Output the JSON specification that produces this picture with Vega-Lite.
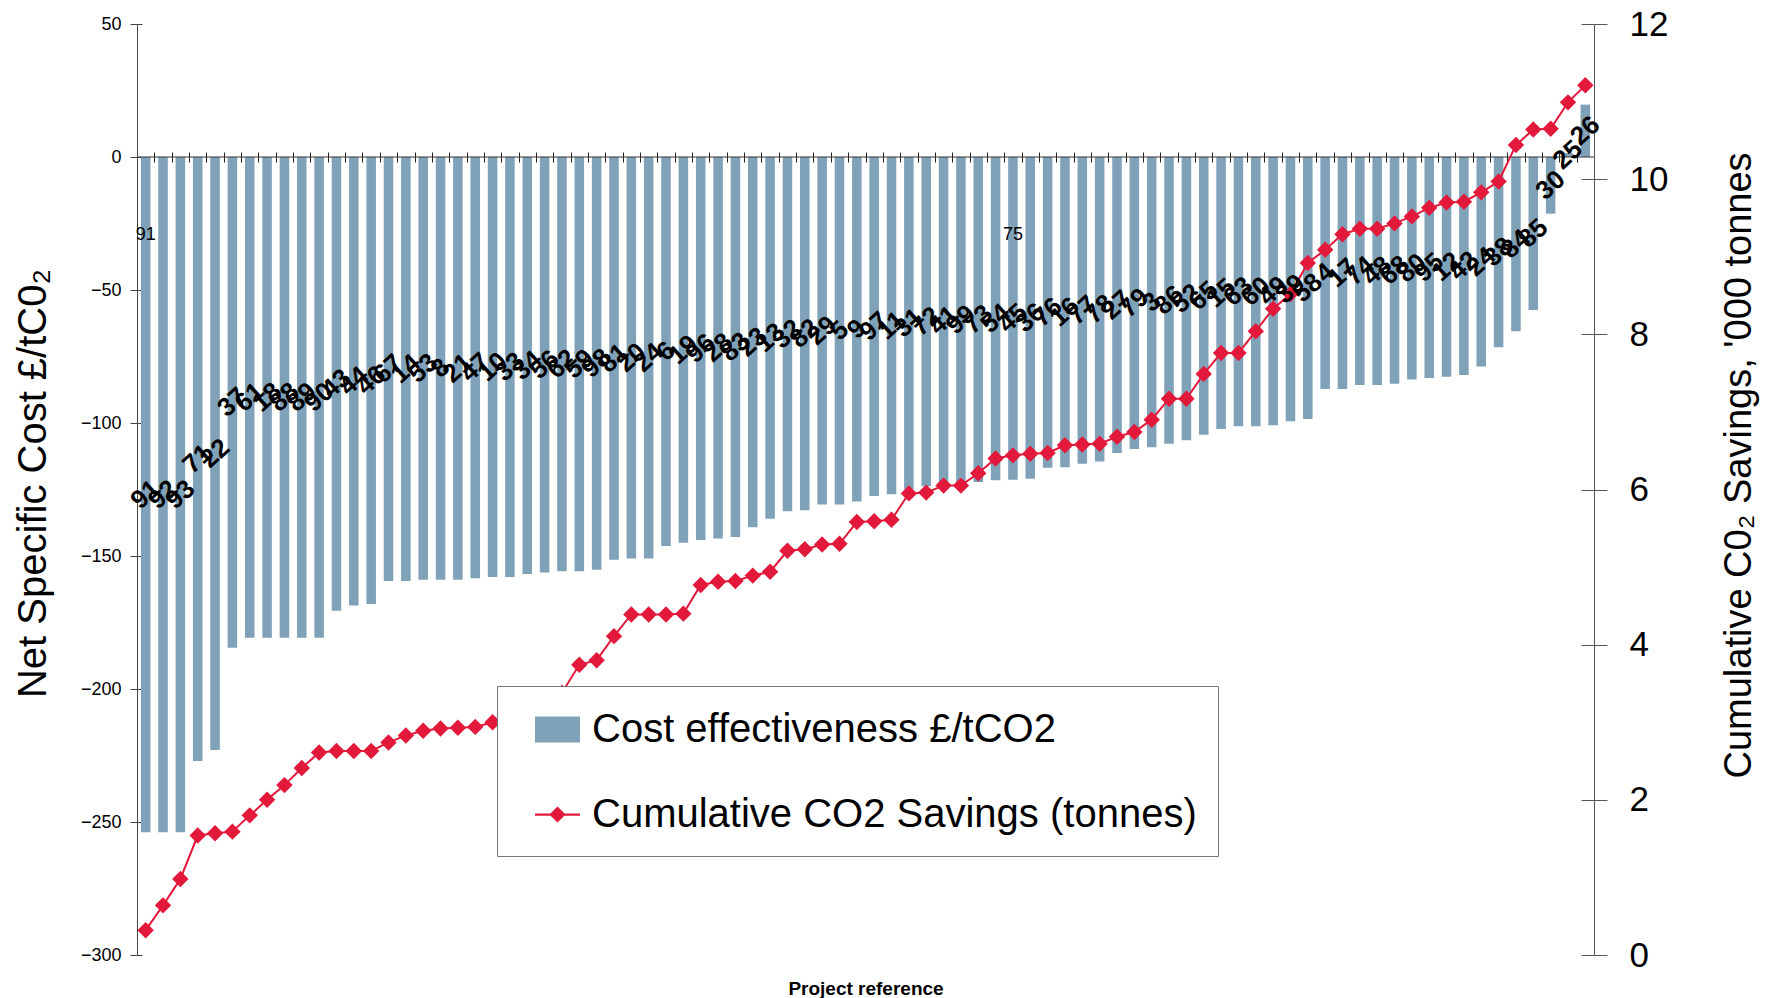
{
  "$schema": "https://vega.github.io/schema/vega-lite/v6.json",
  "width": 1457,
  "height": 931,
  "autosize": {"type": "none"},
  "padding": {"left": 137, "top": 24, "right": 177, "bottom": 43},
  "background": "#ffffff",
  "config": {
    "view": {"stroke": null},
    "font": "Liberation Sans",
    "axis": {"labelFont": "Liberation Sans", "titleFont": "Liberation Sans", "labelColor": "#000000", "titleColor": "#000000", "grid": false},
    "legend": {"labelFont": "Liberation Sans"}
  },
  "datasets": {
    "projects": [
      {"i": 1, "ref": "91", "cost": -253.9, "cum": 0.32},
      {"i": 2, "ref": "92", "cost": -253.9, "cum": 0.64},
      {"i": 3, "ref": "93", "cost": -253.9, "cum": 0.98},
      {"i": 4, "ref": "71", "cost": -227.1, "cum": 1.54},
      {"i": 5, "ref": "22", "cost": -222.9, "cum": 1.57},
      {"i": 6, "ref": "37", "cost": -184.5, "cum": 1.59},
      {"i": 7, "ref": "61", "cost": -180.7, "cum": 1.80},
      {"i": 8, "ref": "18", "cost": -180.7, "cum": 2.00},
      {"i": 9, "ref": "88", "cost": -180.7, "cum": 2.19},
      {"i": 10, "ref": "89", "cost": -180.7, "cum": 2.41},
      {"i": 11, "ref": "90", "cost": -180.7, "cum": 2.61},
      {"i": 12, "ref": "43", "cost": -170.6, "cum": 2.63},
      {"i": 13, "ref": "44", "cost": -168.6, "cum": 2.63},
      {"i": 14, "ref": "46", "cost": -168.0, "cum": 2.63},
      {"i": 15, "ref": "67", "cost": -159.4, "cum": 2.74},
      {"i": 16, "ref": "14", "cost": -159.4, "cum": 2.83},
      {"i": 17, "ref": "53", "cost": -158.9, "cum": 2.89},
      {"i": 18, "ref": "8", "cost": -158.9, "cum": 2.92},
      {"i": 19, "ref": "21", "cost": -158.9, "cum": 2.93},
      {"i": 20, "ref": "47", "cost": -158.4, "cum": 2.94},
      {"i": 21, "ref": "10", "cost": -157.9, "cum": 3.00},
      {"i": 22, "ref": "33", "cost": -157.9, "cum": 3.03},
      {"i": 23, "ref": "34", "cost": -156.8, "cum": 3.06},
      {"i": 24, "ref": "56", "cost": -156.2, "cum": 3.10},
      {"i": 25, "ref": "62", "cost": -155.7, "cum": 3.38},
      {"i": 26, "ref": "59", "cost": -155.7, "cum": 3.74},
      {"i": 27, "ref": "98", "cost": -155.2, "cum": 3.80},
      {"i": 28, "ref": "81", "cost": -151.4, "cum": 4.11},
      {"i": 29, "ref": "20", "cost": -150.9, "cum": 4.39},
      {"i": 30, "ref": "24", "cost": -150.9, "cum": 4.39},
      {"i": 31, "ref": "6", "cost": -146.2, "cum": 4.39},
      {"i": 32, "ref": "19", "cost": -145.0, "cum": 4.40},
      {"i": 33, "ref": "96", "cost": -144.0, "cum": 4.77},
      {"i": 34, "ref": "28", "cost": -143.4, "cum": 4.81},
      {"i": 35, "ref": "83", "cost": -142.9, "cum": 4.82},
      {"i": 36, "ref": "23", "cost": -139.2, "cum": 4.89},
      {"i": 37, "ref": "13", "cost": -136.0, "cum": 4.94},
      {"i": 38, "ref": "32", "cost": -133.2, "cum": 5.21},
      {"i": 39, "ref": "82", "cost": -132.8, "cum": 5.23},
      {"i": 40, "ref": "29", "cost": -130.6, "cum": 5.29},
      {"i": 41, "ref": "5", "cost": -130.6, "cum": 5.30},
      {"i": 42, "ref": "9", "cost": -129.5, "cum": 5.58},
      {"i": 43, "ref": "97", "cost": -127.4, "cum": 5.59},
      {"i": 44, "ref": "11", "cost": -126.8, "cum": 5.61},
      {"i": 45, "ref": "31", "cost": -124.8, "cum": 5.95},
      {"i": 46, "ref": "72", "cost": -123.8, "cum": 5.96},
      {"i": 47, "ref": "41", "cost": -122.9, "cum": 6.05},
      {"i": 48, "ref": "99", "cost": -122.5, "cum": 6.05},
      {"i": 49, "ref": "73", "cost": -122.2, "cum": 6.21},
      {"i": 50, "ref": "54", "cost": -121.5, "cum": 6.40},
      {"i": 51, "ref": "45", "cost": -121.3, "cum": 6.44},
      {"i": 52, "ref": "36", "cost": -121.0, "cum": 6.46},
      {"i": 53, "ref": "76", "cost": -116.8, "cum": 6.47},
      {"i": 54, "ref": "16", "cost": -116.6, "cum": 6.57},
      {"i": 55, "ref": "77", "cost": -115.3, "cum": 6.58},
      {"i": 56, "ref": "78", "cost": -114.5, "cum": 6.59},
      {"i": 57, "ref": "27", "cost": -111.3, "cum": 6.68},
      {"i": 58, "ref": "79", "cost": -109.8, "cum": 6.74},
      {"i": 59, "ref": "3", "cost": -109.1, "cum": 6.90},
      {"i": 60, "ref": "86", "cost": -107.8, "cum": 7.17},
      {"i": 61, "ref": "52", "cost": -106.5, "cum": 7.17},
      {"i": 62, "ref": "65", "cost": -104.4, "cum": 7.49},
      {"i": 63, "ref": "15", "cost": -102.3, "cum": 7.76},
      {"i": 64, "ref": "63", "cost": -101.2, "cum": 7.76},
      {"i": 65, "ref": "60", "cost": -101.2, "cum": 8.04},
      {"i": 66, "ref": "49", "cost": -100.8, "cum": 8.33},
      {"i": 67, "ref": "39", "cost": -99.3, "cum": 8.52},
      {"i": 68, "ref": "58", "cost": -98.5, "cum": 8.92},
      {"i": 69, "ref": "4", "cost": -87.2, "cum": 9.09},
      {"i": 70, "ref": "17", "cost": -87.2, "cum": 9.29},
      {"i": 71, "ref": "74", "cost": -85.7, "cum": 9.36},
      {"i": 72, "ref": "48", "cost": -85.7, "cum": 9.36},
      {"i": 73, "ref": "68", "cost": -85.2, "cum": 9.43},
      {"i": 74, "ref": "80", "cost": -83.6, "cum": 9.52},
      {"i": 75, "ref": "95", "cost": -83.1, "cum": 9.63},
      {"i": 76, "ref": "12", "cost": -82.6, "cum": 9.70},
      {"i": 77, "ref": "42", "cost": -82.0, "cum": 9.71},
      {"i": 78, "ref": "24", "cost": -78.8, "cum": 9.83},
      {"i": 79, "ref": "38", "cost": -71.5, "cum": 9.97},
      {"i": 80, "ref": "84", "cost": -65.5, "cum": 10.44},
      {"i": 81, "ref": "85", "cost": -57.5, "cum": 10.64},
      {"i": 82, "ref": "30", "cost": -21.3, "cum": 10.65},
      {"i": 83, "ref": "25", "cost": 1.5, "cum": 10.99},
      {"i": 84, "ref": "26", "cost": 19.7, "cum": 11.21}
    ],
    "notes": [
      {"i": 1, "note": "91", "v": -29.5},
      {"i": 51, "note": "75", "v": -29.5}
    ]
  },
  "resolve": {
    "scale": {"y": "independent"},
    "axis": {"x": "independent", "y": "independent"}
  },
  "layer": [
    {
      "data": {"name": "projects"},
      "mark": {"type": "bar", "width": {"band": 0.55}, "color": "#80A2B9"},
      "encoding": {
        "x": {
          "field": "i", "type": "ordinal",
          "scale": {"paddingInner": 0, "paddingOuter": 0},
          "axis": {"orient": "top", "offset": -138, "domain": false, "labels": false, "tickBand": "extent", "tickSize": 10, "tickColor": "#222222", "tickWidth": 1, "title": null}
        },
        "y": {
          "field": "cost", "type": "quantitative",
          "scale": {"domain": [-300, 50], "nice": false, "zero": false},
          "axis": {
            "orient": "left", "values": [-300, -250, -200, -150, -100, -50, 0, 50],
            "tickSize": 7, "tickColor": "#444444", "domainColor": "#444444",
            "labelFontSize": 18, "labelPadding": 9,
            "title": "Net Specific Cost £/tC0₂", "titleFontSize": 40, "titleFontWeight": "normal",
            "titleAngle": 270, "titleAlign": "center", "titleBaseline": "middle", "titleX": -104, "titleY": 459
          }
        }
      }
    },
    {
      "data": {"values": [{}]},
      "mark": {"type": "rule", "color": "#333333", "strokeWidth": 1},
      "encoding": {
        "y": {
          "datum": 0, "type": "quantitative",
          "scale": {"domain": [-300, 50], "nice": false, "zero": false},
          "axis": {"orient": "left", "offset": -5, "tickSize": 5, "labels": false, "domain": false, "title": null, "tickColor": "#444444", "values": [-300, -250, -200, -150, -100, -50, 0, 50]}
        }
      }
    },
    {
      "data": {"name": "projects"},
      "mark": {"type": "line", "color": "#E2193B", "strokeWidth": 2},
      "encoding": {
        "x": {
          "field": "i", "type": "ordinal",
          "axis": {"orient": "bottom", "domain": false, "ticks": false, "labels": false, "title": "Project reference", "titleFontSize": 19, "titleFontWeight": "bold", "titleBaseline": "middle", "titleY": 33}
        },
        "y": {
          "field": "cum", "type": "quantitative",
          "scale": {"domain": [0, 12], "nice": false, "zero": false},
          "axis": {
            "orient": "right", "values": [0, 2, 4, 6, 8, 10, 12],
            "tickSize": 13, "tickColor": "#555555", "domainColor": "#555555",
            "labelFontSize": 35, "labelPadding": 22,
            "title": "Cumulative C0₂ Savings,  '000 tonnes", "titleFontSize": 38, "titleFontWeight": "normal",
            "titleAngle": 270, "titleAlign": "center", "titleBaseline": "middle", "titleX": 145, "titleY": 441
          }
        }
      }
    },
    {
      "data": {"name": "projects"},
      "mark": {"type": "point", "shape": "diamond", "filled": true, "color": "#E2193B", "size": 270, "opacity": 1},
      "encoding": {
        "x": {"field": "i", "type": "ordinal", "axis": null},
        "y": {
          "field": "cum", "type": "quantitative",
          "scale": {"domain": [0, 12], "nice": false, "zero": false},
          "axis": {"orient": "right", "offset": -13, "tickSize": 13, "labels": false, "domain": false, "title": null, "tickColor": "#555555", "values": [0, 2, 4, 6, 8, 10, 12]}
        }
      }
    },
    {
      "data": {"name": "projects"},
      "transform": [{"calculate": "datum.cost / 2", "as": "mid"}],
      "mark": {"type": "text", "angle": 318, "fontSize": 26, "fontWeight": "bold", "color": "#000000", "align": "center", "baseline": "middle"},
      "encoding": {
        "x": {"field": "i", "type": "ordinal", "axis": null},
        "y": {"field": "mid", "type": "quantitative", "scale": {"domain": [-300, 50], "nice": false, "zero": false}, "axis": null},
        "text": {"field": "ref"}
      }
    },
    {
      "data": {"name": "notes"},
      "mark": {"type": "text", "fontSize": 18, "color": "#000000", "align": "center", "baseline": "middle"},
      "encoding": {
        "x": {"field": "i", "type": "ordinal", "axis": null},
        "y": {"field": "v", "type": "quantitative", "scale": {"domain": [-300, 50], "nice": false, "zero": false}, "axis": null},
        "text": {"field": "note"}
      }
    },
    {
      "data": {"name": "projects"},
      "transform": [{"filter": "datum.i == 1"}],
      "mark": {"type": "point", "filled": true, "opacity": 0},
      "encoding": {
        "x": {"field": "i", "type": "ordinal", "axis": null},
        "y": {"field": "cum", "type": "quantitative", "scale": {"domain": [0, 12], "nice": false, "zero": false}, "axis": null},
        "color": {
          "datum": "Cumulative CO2 Savings (tonnes)",
          "scale": {"domain": ["Cost effectiveness £/tCO2", "Cumulative CO2 Savings (tonnes)"], "range": ["#80A2B9", "#E2193B"]},
          "legend": {
            "orient": "none", "legendX": 360, "legendY": 662, "direction": "vertical", "title": null,
            "strokeColor": "#777777", "fillColor": "#ffffff", "padding": 21,
            "symbolSize": 2025, "symbolOffset": 17, "symbolStrokeWidth": 0, "symbolOpacity": 1,
            "labelFontSize": 40, "labelColor": "#000000", "labelLimit": 1000, "labelOffset": 12, "rowPadding": 42
          }
        },
        "shape": {
          "datum": "Cumulative CO2 Savings (tonnes)",
          "scale": {
            "domain": ["Cost effectiveness £/tCO2", "Cumulative CO2 Savings (tonnes)"],
            "range": ["M-1,-0.58H1V0.58H-1Z", "M-1,-0.05H1V0.05H-1Z M0,-0.36L0.36,0L0,0.36L-0.36,0Z"]
          }
        }
      }
    }
  ]
}
